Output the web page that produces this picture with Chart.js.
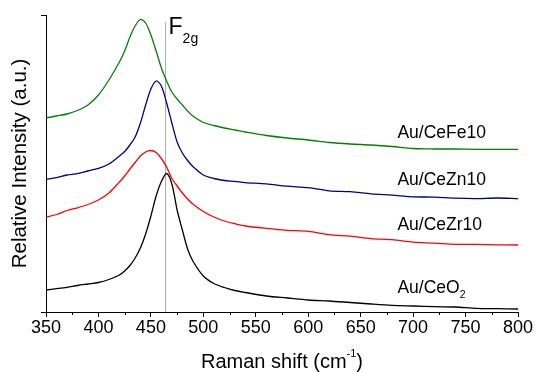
<!DOCTYPE html>
<html>
<head>
<meta charset="utf-8">
<script src="https://cdn.jsdelivr.net/npm/chart.js@4"></script>
<style>
  html, body { margin: 0; padding: 0; background: #fff; }
  #wrap { width: 536px; height: 372px; }
</style>
</head>
<body>
<div id="wrap"><canvas id="ramanChart" width="536" height="372"></canvas></div>
<script>
// Raman shift (cm-1) and relative intensity
const ramanShift = [350, 360, 370, 380, 390, 400, 410, 420, 425, 430, 435, 440, 445, 450, 455, 460, 465, 470, 475, 480,
    485, 490, 500, 510, 520, 530, 540, 560, 580, 600, 620, 640, 660, 680, 700, 720, 740, 760, 780, 800];

const ceFe10 = [194, 196, 198, 201.5, 207, 217, 232, 250, 261, 275, 286, 292.5, 289, 277, 261, 244, 231, 220, 213, 207,
    201, 196, 189.5, 186.5, 184, 182, 180, 176.5, 174, 172, 169.5, 168, 167, 165.5, 163.5, 163, 163, 162.7, 162.7, 162.7];

const ceZn10 = [132.7, 134.4, 137, 138.4, 141, 143.6, 148, 156, 160.5, 167, 175, 189, 207, 223, 231, 226, 209, 189, 170, 159,
    151.5, 145.5, 137, 133.5, 131.5, 130.6, 129.4, 128.1, 125.8, 124.3, 121.2, 120.3, 118.2, 116.8, 115.2, 114.9, 113.8, 113.4, 114, 113.3];

const ceZr10 = [94.7, 97.5, 101.5, 104.2, 107.5, 112, 119, 130, 136, 143, 149.5, 156, 160, 161.5, 159.5, 153.5, 145, 133.5, 126, 119,
    113, 108, 100.5, 95, 91, 88.3, 86, 83.6, 81.7, 80.6, 77.3, 75.8, 73.4, 72.3, 69.8, 68.9, 67.7, 67.6, 67.2, 67];

const ceO2 = [22, 23.3, 24.7, 26.5, 28, 29.5, 32.5, 37, 41, 46.5, 54, 64, 78, 96, 116, 130.5, 138.5, 128, 102, 82,
    63, 51, 36, 28.5, 24.5, 21.5, 19.5, 16, 14, 12, 11, 9.5, 8, 6.7, 6, 5.3, 5, 3.7, 3.3, 3];

const seriesNames = ['Au/CeFe10', 'Au/CeZn10', 'Au/CeZr10', 'Au/CeO2'];
const seriesColors = ['#008000', '#000080', '#ff0000', '#000000'];

const xTickValues = [350, 400, 450, 500, 550, 600, 650, 700, 750, 800];
const xMinorTicks = [375, 425, 475, 525, 575, 625, 675, 725, 775];
const f2gShift = 464;

const FONT = '"Liberation Sans", Arial, sans-serif';

function toPoints(values) {
    return values.map((v, i) => ({ x: ramanShift[i], y: v }));
}

// draw a run of text pieces with sub/superscripts
function drawParts(ctx, x, y, parts) {
    let cx = x;
    parts.forEach(p => {
        ctx.font = p.size + 'px ' + FONT;
        ctx.fillText(p.text, cx, y + (p.dy || 0));
        cx += ctx.measureText(p.text).width;
    });
    return cx;
}

function partsWidth(ctx, parts) {
    let w = 0;
    parts.forEach(p => {
        ctx.font = p.size + 'px ' + FONT;
        w += ctx.measureText(p.text).width;
    });
    return w;
}

const decorPlugin = {
    id: 'decor',
    afterDraw(chart) {
        const ctx = chart.ctx;
        const xs = chart.scales.x;
        const ys = chart.scales.y;
        const area = chart.chartArea;
        ctx.save();

        // minor ticks on the x axis
        ctx.strokeStyle = '#000';
        ctx.lineWidth = 1;
        xMinorTicks.forEach(v => {
            const px = Math.round(xs.getPixelForValue(v)) + 0.5;
            ctx.beginPath();
            ctx.moveTo(px, area.bottom);
            ctx.lineTo(px, area.bottom + 3);
            ctx.stroke();
        });

        ctx.fillStyle = '#000';
        ctx.textBaseline = 'alphabetic';
        ctx.textAlign = 'left';

        // x axis title with superscript
        const titleParts = [
            { text: 'Raman shift (cm', size: 20 },
            { text: '-1', size: 11, dy: -11 },
            { text: ')', size: 20 }
        ];
        const tw = partsWidth(ctx, titleParts);
        drawParts(ctx, (area.left + area.right) / 2 - tw / 2, 367.5, titleParts);

        // series labels
        const labelY = [173.7, 127, 82, 18.7];
        seriesNames.forEach((name, i) => {
            const px = xs.getPixelForValue(685);
            const py = ys.getPixelForValue(labelY[i]);
            let parts;
            if (name.endsWith('O2')) {
                parts = [{ text: name.slice(0, -1), size: 17.5 }, { text: '2', size: 10.5, dy: 5 }];
            } else {
                parts = [{ text: name, size: 17.5 }];
            }
            drawParts(ctx, px, py, parts);
        });

        // F2g label next to the reference line
        const fx = xs.getPixelForValue(f2gShift) + 3;
        drawParts(ctx, fx, 33.5, [{ text: 'F', size: 23 }, { text: '2g', size: 14, dy: 9 }]);

        ctx.restore();
    }
};

const datasets = seriesNames.map((name, i) => ({
    label: name,
    data: toPoints([ceFe10, ceZn10, ceZr10, ceO2][i]),
    borderColor: seriesColors[i],
    borderWidth: 1.3,
    pointRadius: 0,
    tension: 0.3,
    fill: false
}));

datasets.push({
    label: 'F2g',
    data: [{ x: f2gShift, y: 0 }, { x: f2gShift, y: 290 }],
    borderColor: '#aaaaaa',
    borderWidth: 1,
    pointRadius: 0,
    fill: false
});

new Chart(document.getElementById('ramanChart').getContext('2d'), {
    type: 'line',
    data: { datasets: datasets },
    options: {
        responsive: false,
        animation: false,
        layout: { padding: { top: 15, right: 18, left: 0, bottom: 0 } },
        plugins: {
            legend: { display: false },
            tooltip: { enabled: false }
        },
        scales: {
            x: {
                type: 'linear',
                min: 350,
                max: 800,
                afterBuildTicks: scale => {
                    scale.ticks = xTickValues.map(v => ({ value: v }));
                },
                afterFit: scale => { scale.height = 60; },
                ticks: {
                    color: '#000',
                    font: { family: FONT, size: 18 },
                    padding: 0,
                    maxRotation: 0,
                    autoSkip: false
                },
                grid: {
                    display: true,
                    drawOnChartArea: false,
                    drawTicks: true,
                    tickLength: 5,
                    tickColor: '#000'
                },
                border: { display: true, color: '#000', width: 1 }
            },
            y: {
                type: 'linear',
                min: 0,
                max: 297,
                afterBuildTicks: scale => {
                    scale.ticks = [{ value: 0 }, { value: 297 }];
                },
                afterFit: scale => { scale.width = 46; },
                ticks: { display: false },
                grid: {
                    display: true,
                    drawOnChartArea: false,
                    drawTicks: true,
                    tickLength: 5,
                    tickColor: '#000'
                },
                border: { display: true, color: '#000', width: 1 },
                title: {
                    display: true,
                    text: 'Relative Intensity (a.u.)',
                    color: '#000',
                    font: { family: FONT, size: 20.5 },
                    padding: { top: 8, bottom: 0 }
                }
            }
        }
    },
    plugins: [decorPlugin]
});
</script>
</body>
</html>
